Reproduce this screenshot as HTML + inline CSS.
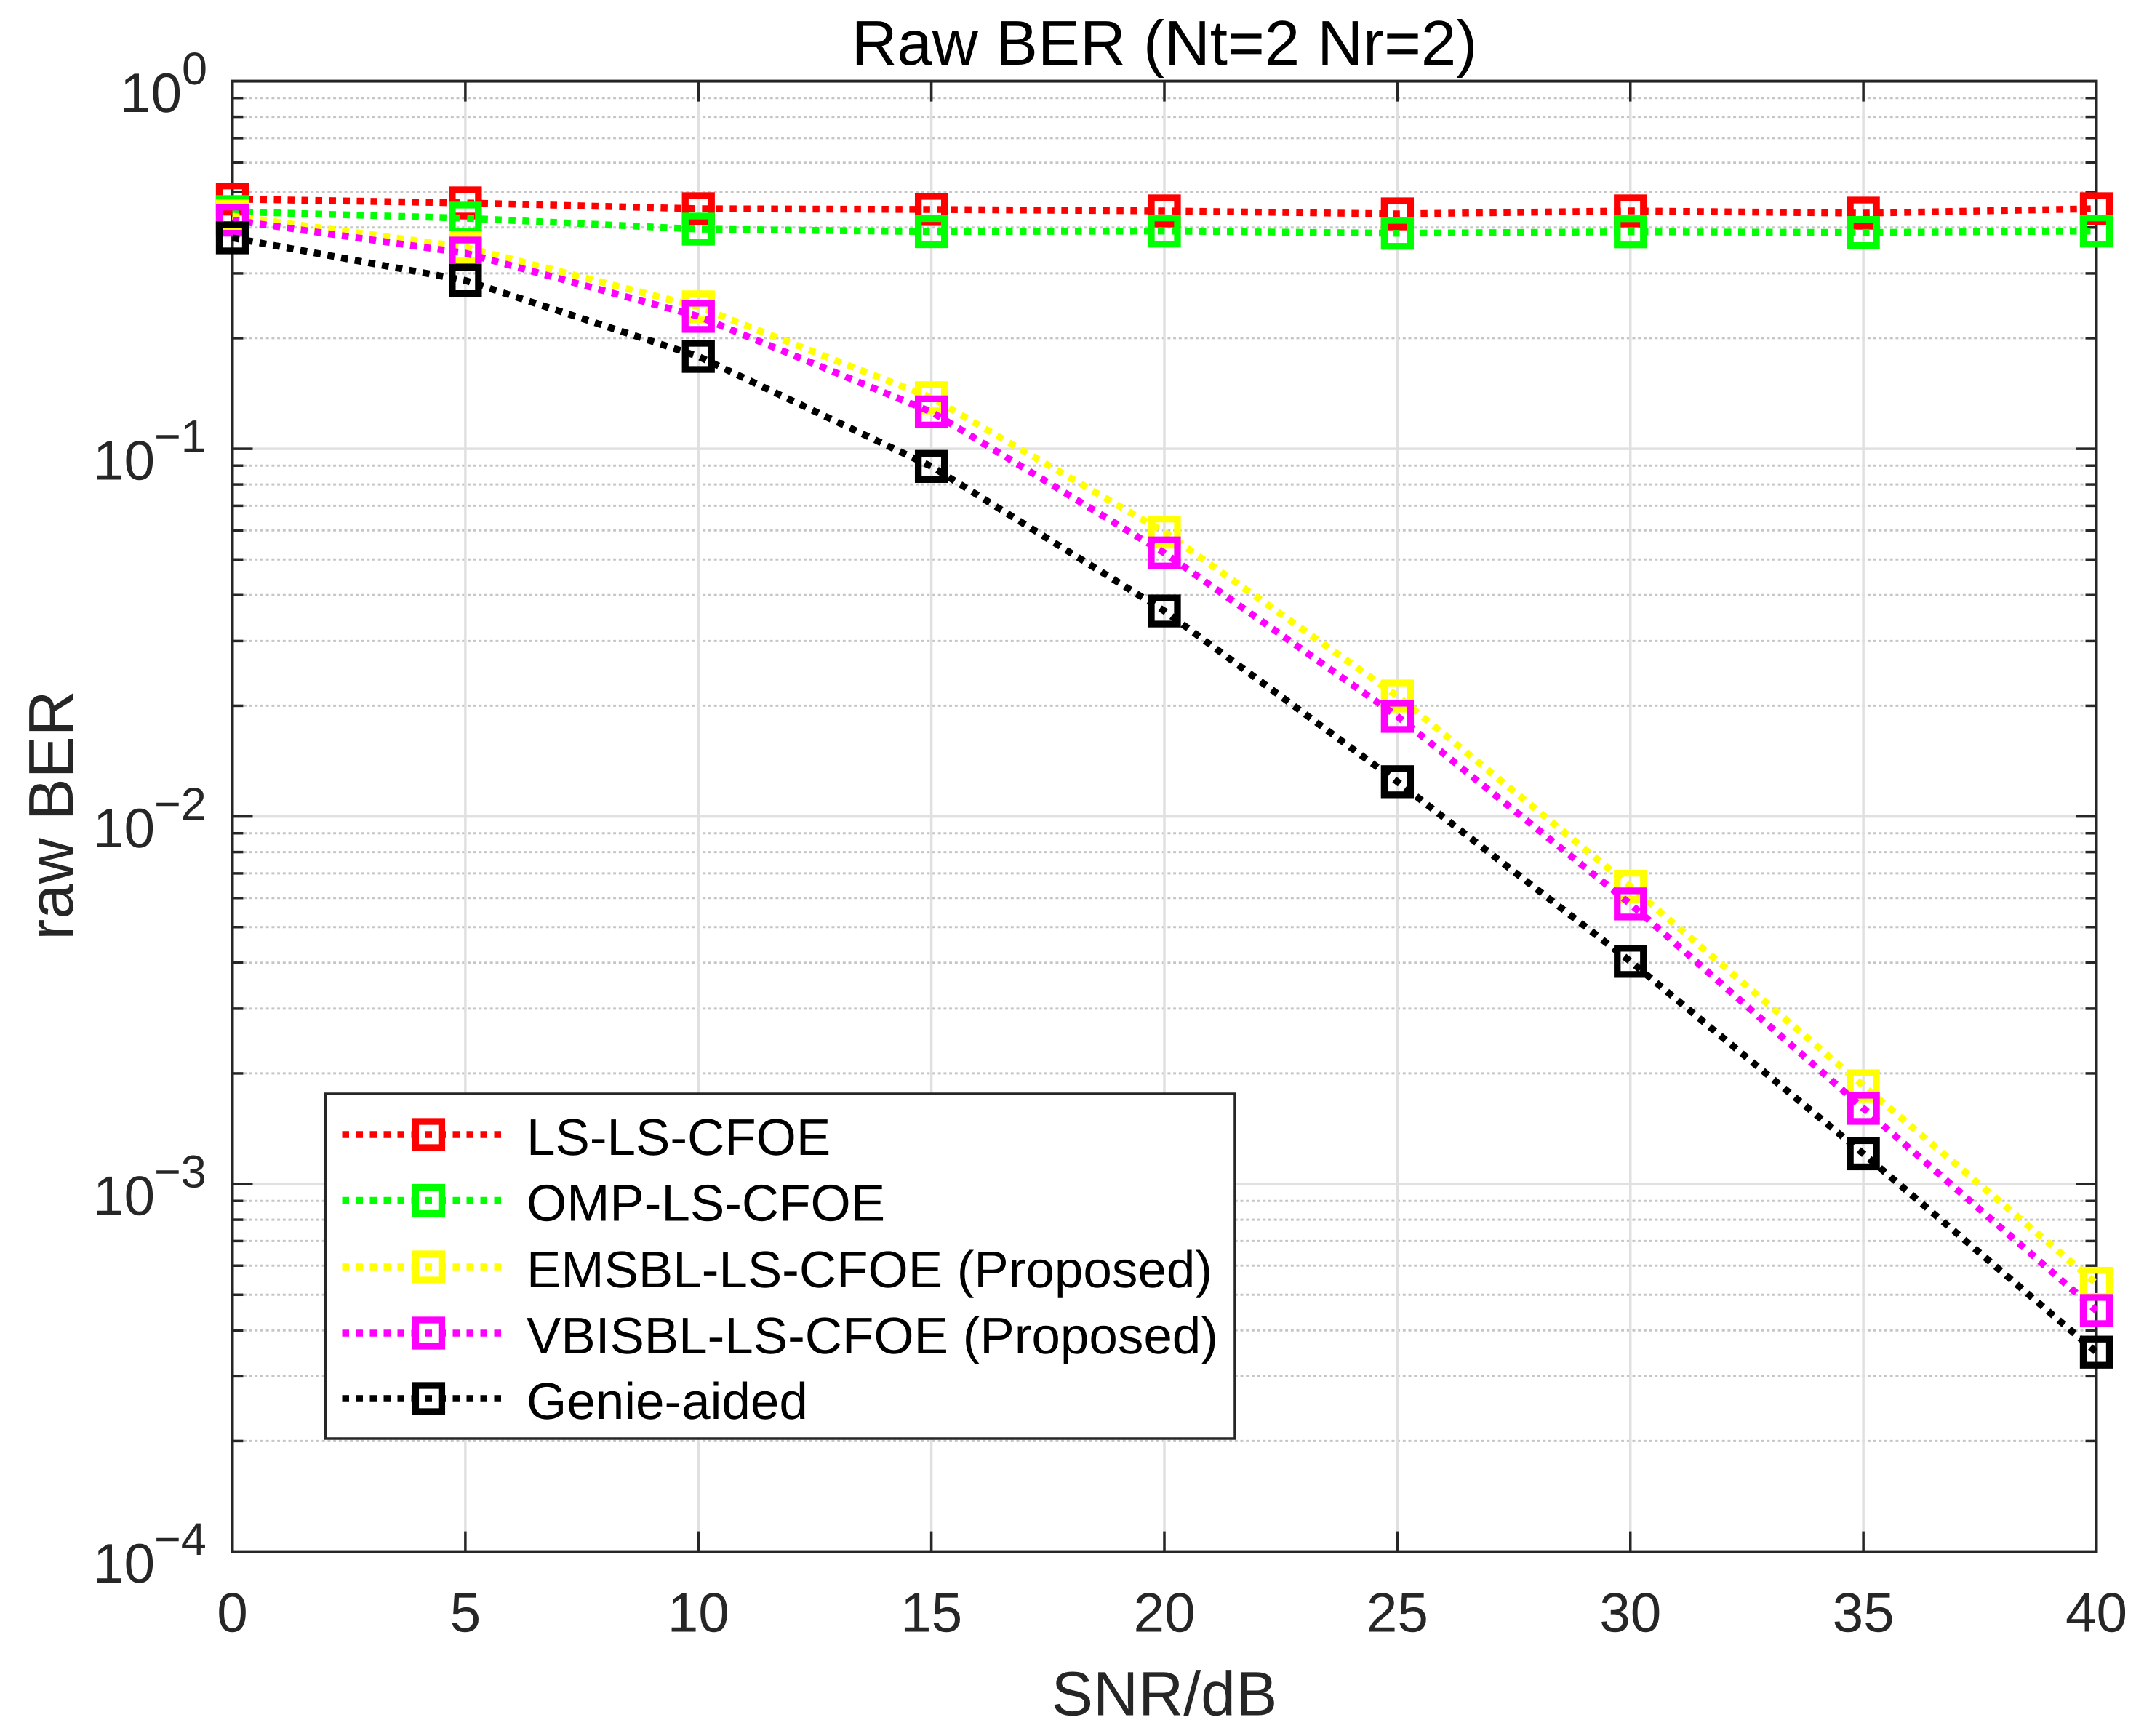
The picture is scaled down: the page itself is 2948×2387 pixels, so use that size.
<!DOCTYPE html>
<html lang="en">
<head>
<meta charset="utf-8">
<title>Raw BER (Nt=2 Nr=2)</title>
<style>
  html, body { margin: 0; padding: 0; background: #ffffff; }
  svg { display: block; }
  text { font-family: "Liberation Sans", Arial, sans-serif; text-rendering: geometricPrecision; }
</style>
</head>
<body>
<svg id="chart" xmlns="http://www.w3.org/2000/svg" width="2948" height="2387" viewBox="0 0 2948 2387">
  <rect x="0" y="0" width="2948" height="2387" fill="#ffffff"/>
  <g id="grid"></g>
  <g id="axes"></g>
  <g id="ticklabels"></g>
  <g id="plot"></g>
  <g id="legend"></g>
  <text x="1601" y="89" font-size="87" text-anchor="middle" fill="#000000">Raw BER (Nt=2 Nr=2)</text>
  <text x="1601" y="2358.5" font-size="86" text-anchor="middle" fill="#262626">SNR/dB</text>
  <text transform="translate(100 1121) rotate(-90)" x="0" y="0" font-size="87" text-anchor="middle" fill="#262626">raw BER</text>
</svg>
<script>
// Chart data
const snrValues = [0, 5, 10, 15, 20, 25, 30, 35, 40];
const lsLsBer = [0.4779, 0.4665, 0.4498, 0.4478, 0.4437, 0.4356, 0.4437, 0.4376, 0.4498];
const ompBer = [0.4418, 0.4240, 0.3959, 0.3897, 0.3911, 0.3858, 0.3893, 0.3876, 0.3911];
const emsblBer = [0.4297, 0.3534, 0.2433, 0.1377, 0.05933, 0.02126, 0.006456, 0.001850, 0.000537];
const vbisblBer = [0.4188, 0.3406, 0.2293, 0.1260, 0.05209, 0.01872, 0.005781, 0.001607, 0.000453];
const genieBer = [0.3749, 0.2870, 0.1784, 0.08955, 0.03622, 0.01243, 0.004035, 0.001209, 0.000349];
const seriesNames = ["LS-LS-CFOE", "OMP-LS-CFOE", "EMSBL-LS-CFOE (Proposed)", "VBISBL-LS-CFOE (Proposed)", "Genie-aided"];
const seriesKeys = ["ls-ls-cfoe", "omp-ls-cfoe", "emsbl-ls-cfoe", "vbisbl-ls-cfoe", "genie-aided"];
const seriesColors = ["#ff0000", "#00ff00", "#ffff00", "#ff00ff", "#000000"];
const seriesValues = [lsLsBer, ompBer, emsblBer, vbisblBer, genieBer];
const xTickLabels = [0, 5, 10, 15, 20, 25, 30, 35, 40];
const yTickExponents = [0, -1, -2, -3, -4];
const minorMultipliers = [2, 3, 4, 5, 6, 7, 8, 9];

// Axis layout
const plotLeft = 319.5, plotRight = 2882.5, plotTop = 111.6, plotBottom = 2133.6;
const xMin = 0, xMax = 40, yMinExp = -4, yMaxExp = 0;
const inkColor = "#262626";
const NS = "http://www.w3.org/2000/svg";

function xScale(v) {
  return plotLeft + (v - xMin) / (xMax - xMin) * (plotRight - plotLeft);
}
function yScale(v) {
  return plotTop + (yMaxExp - Math.log10(v)) / (yMaxExp - yMinExp) * (plotBottom - plotTop);
}
function make(parent, tag, attrs, textContent) {
  const el = document.createElementNS(NS, tag);
  for (const key in attrs) el.setAttribute(key, attrs[key]);
  if (textContent !== undefined) el.textContent = textContent;
  parent.appendChild(el);
  return el;
}

const gridGroup = document.getElementById("grid");
const axesGroup = document.getElementById("axes");
const labelGroup = document.getElementById("ticklabels");
const plotGroup = document.getElementById("plot");
const legendGroup = document.getElementById("legend");

// Minor horizontal grid
for (let e = yMinExp; e < yMaxExp; e++) {
  minorMultipliers.forEach(function (m) {
    const y = yScale(m * Math.pow(10, e));
    const line = make(gridGroup, "line", { x1: plotLeft, x2: plotRight, y1: y, y2: y, stroke: "#c6c6c6", "stroke-width": 3, "stroke-dasharray": "4 3.7" });
    
    
    const tickL = make(axesGroup, "line", { x1: plotLeft, x2: plotLeft + 15, y1: y, y2: y, stroke: inkColor, "stroke-width": 3.5 });
    
    
    const tickR = make(axesGroup, "line", { x1: plotRight - 15, x2: plotRight, y1: y, y2: y, stroke: inkColor, "stroke-width": 3.5 });
    
    
  });
}

// Major horizontal grid, ticks and labels
yTickExponents.forEach(function (e) {
  const y = yScale(Math.pow(10, e));
  if (e !== yMaxExp && e !== yMinExp) {
    const line = make(gridGroup, "line", { x1: plotLeft, x2: plotRight, y1: y, y2: y, stroke: "#e0e0e0", "stroke-width": 3.5 });
    
    
    const tickL = make(axesGroup, "line", { x1: plotLeft, x2: plotLeft + 28, y1: y, y2: y, stroke: inkColor, "stroke-width": 3.5 });
    
    
    const tickR = make(axesGroup, "line", { x1: plotRight - 28, x2: plotRight, y1: y, y2: y, stroke: inkColor, "stroke-width": 3.5 });
    
    
  }
  const negative = e < 0;
  const base = make(labelGroup, "text", { x: negative ? 128 : 165, y: y + 42.3, "font-size": 76.5, fill: inkColor }, "10");
  
  
  const expText = negative ? "\u2212" + Math.abs(e) : String(e);
  const exponent = make(labelGroup, "text", { x: negative ? 212 : 250, y: y + 4.4, "font-size": 63, fill: inkColor }, expText);
  
  
});

// Vertical grid, ticks and labels
xTickLabels.forEach(function (v) {
  const x = xScale(v);
  if (v !== xMin && v !== xMax) {
    const line = make(gridGroup, "line", { x1: x, x2: x, y1: plotTop, y2: plotBottom, stroke: "#e0e0e0", "stroke-width": 3.5 });
    
    
    const tickB = make(axesGroup, "line", { x1: x, x2: x, y1: plotBottom - 28, y2: plotBottom, stroke: inkColor, "stroke-width": 3.5 });
    
    
    const tickT = make(axesGroup, "line", { x1: x, x2: x, y1: plotTop, y2: plotTop + 28, stroke: inkColor, "stroke-width": 3.5 });
    
    
  }
  const label = make(labelGroup, "text", { x: x, y: 2243.5, "font-size": 76.5, fill: inkColor, "text-anchor": "middle" }, String(v));
  
  
});

// Axes box
const frame = make(axesGroup, "rect", { x: plotLeft, y: plotTop, width: plotRight - plotLeft, height: plotBottom - plotTop, fill: "none", stroke: inkColor, "stroke-width": 4 });



// Series
const markerSize = 36, markerStroke = 9.3, lineWidth = 9.5, dashPattern = "9.5 9.5";
seriesValues.forEach(function (values, s) {
  const group = make(plotGroup, "g", {});
  
  
  const points = values.map(function (v, i) { return xScale(snrValues[i]).toFixed(2) + "," + yScale(v).toFixed(2); }).join(" ");
  const line = make(group, "polyline", { points: points, fill: "none", stroke: seriesColors[s], "stroke-width": lineWidth, "stroke-dasharray": dashPattern, "stroke-linejoin": "miter" });
  
  
  values.forEach(function (v, i) {
    const marker = make(group, "rect", {
      x: xScale(snrValues[i]) - markerSize / 2,
      y: yScale(v) - markerSize / 2,
      width: markerSize, height: markerSize,
      fill: "none", stroke: seriesColors[s], "stroke-width": markerStroke
    });
    
    
  });
});

// Legend
const legendBox = make(legendGroup, "rect", { x: 447.5, y: 1504, width: 1250.5, height: 474, fill: "#ffffff", stroke: inkColor, "stroke-width": 3.5 });


const legendLineY = [1560, 1650.5, 1742, 1833, 1923];
seriesNames.forEach(function (name, s) {
  const entry = make(legendGroup, "g", {});
  
  
  const y = legendLineY[s];
  const sample = make(entry, "line", { x1: 470.5, x2: 699, y1: y, y2: y, stroke: seriesColors[s], "stroke-width": lineWidth, "stroke-dasharray": dashPattern });
  
  
  const box = make(entry, "rect", { x: 589.4 - markerSize / 2, y: y - markerSize / 2, width: markerSize, height: markerSize, fill: "none", stroke: seriesColors[s], "stroke-width": markerStroke });
  
  
  const label = make(entry, "text", { x: 724, y: y + 28, "font-size": 71, fill: "#000000" }, name);
  
  
});
</script>
</body>
</html>
